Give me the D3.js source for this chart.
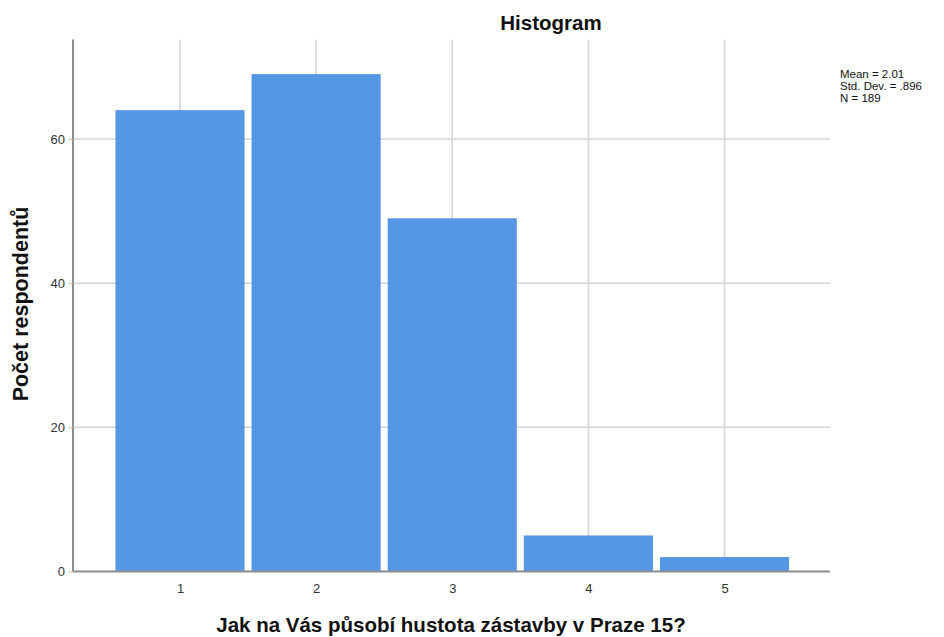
<!DOCTYPE html>
<html><head><meta charset="utf-8">
<script src="https://cdn.jsdelivr.net/npm/d3@7"></script>
<style>body{margin:0;background:#fff}svg{display:block;font-family:"Liberation Sans",Arial,sans-serif}</style>
</head><body><svg id="c" width="944" height="637"></svg>
<script>
const categories = [1, 2, 3, 4, 5];
const counts = [64, 69, 49, 5, 2];
const yTicks = [0, 20, 40, 60];
const statsLines = ["Mean = 2.01", "Std. Dev. = .896", "N = 189"];
const title = "Histogram";
const xLabel = "Jak na Vás působí hustota zástavby v Praze 15?";
const yLabel = "Počet respondentů";

const svg = d3.select("#c");
const L = 73, R = 830, T = 39.5, B = 571.5;
const x = d3.scaleLinear().domain([0.214, 5.775]).range([L, R]);
const y = d3.scaleLinear().domain([0, 73.8]).range([B, T]);

// grid
svg.append("g").selectAll("line.v").data(categories).join("line")
  .attr("x1", d => x(d)).attr("x2", d => x(d)).attr("y1", T).attr("y2", B)
  .attr("stroke", "#d4d4d4").attr("stroke-width", 1.5);
svg.append("g").selectAll("line.h").data(yTicks.filter(d => d > 0)).join("line")
  .attr("x1", L).attr("x2", R).attr("y1", d => y(d)).attr("y2", d => y(d))
  .attr("stroke", "#d4d4d4").attr("stroke-width", 1.5);

// bars
const inset = 3.5;
svg.append("g").selectAll("rect").data(categories).join("rect")
  .attr("x", (d) => x(d - 0.5) + inset)
  .attr("width", (d) => x(d + 0.5) - x(d - 0.5) - 2 * inset)
  .attr("y", (d, i) => y(counts[i]))
  .attr("height", (d, i) => y(0) - y(counts[i]))
  .attr("fill", "#5596e5");

// axes
const xAxis = svg.append("g").attr("transform", `translate(0,${B})`)
  .call(d3.axisBottom(x).tickValues(categories).tickSize(0).tickPadding(12).tickFormat(d3.format("d")));
xAxis.select(".domain").attr("stroke", "#8c8c8c").attr("stroke-width", 2).attr("d", `M${L},0H${R}`);
xAxis.selectAll("text").attr("font-size", 13).attr("fill", "#333").attr("font-family", "Liberation Sans, Arial, sans-serif");

const yAxis = svg.append("g").attr("transform", `translate(${L},0)`)
  .call(d3.axisLeft(y).tickValues(yTicks).tickSize(4).tickPadding(4).tickFormat(d3.format("d")));
yAxis.select(".domain").attr("stroke", "#8c8c8c").attr("stroke-width", 2).attr("d", `M0,${T}V${B}`);
yAxis.selectAll(".tick line").attr("stroke", "#bbb");
yAxis.selectAll("text").attr("font-size", 13).attr("fill", "#333").attr("font-family", "Liberation Sans, Arial, sans-serif");

// title & labels
svg.append("text").attr("x", 551).attr("y", 30).attr("text-anchor", "middle")
  .attr("font-size", 20.5).attr("font-weight", "bold").attr("fill", "#111").text(title);
svg.append("text").attr("x", 451).attr("y", 632).attr("text-anchor", "middle")
  .attr("font-size", 20.5).attr("font-weight", "bold").attr("fill", "#111").text(xLabel);
svg.append("text").attr("transform", "translate(28,304) rotate(-90)").attr("text-anchor", "middle")
  .attr("font-size", 21.5).attr("font-weight", "bold").attr("fill", "#111").text(yLabel);

svg.append("g").selectAll("text").data(statsLines).join("text")
  .attr("x", 840).attr("y", (d, i) => 78 + i * 12)
  .attr("font-size", 11.5).attr("fill", "#111").text(d => d);
</script></body></html>
